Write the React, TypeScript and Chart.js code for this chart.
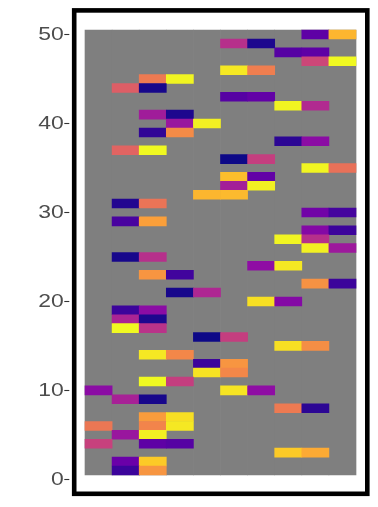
import React, { useEffect, useRef } from "react";
import { Chart, registerables } from "chart.js";

Chart.register(...registerables);

// ---- data ----
const COLUMNS = [1, 2, 3, 4, 5, 6, 7, 8, 9, 10];
const ROW_COUNT = 50;
const Y_TICKS = [0, 10, 20, 30, 40, 50];

const CELL_ROWS = [
  50, 50, 49, 49, 48, 48, 47, 47, 46, 46, 45, 45, 44, 44, 43, 43, 42, 42, 41, 41,
  40, 40, 39, 39, 38, 38, 37, 37, 36, 36, 35, 35, 34, 34, 33, 33, 32, 32, 31, 31,
  30, 30, 29, 29, 28, 28, 27, 27, 26, 26, 25, 25, 24, 24, 23, 23, 22, 22, 21, 21,
  20, 20, 19, 19, 18, 18, 17, 17, 16, 16, 15, 15, 14, 14, 13, 13, 12, 12, 11, 11,
  10, 10, 10, 9, 9, 8, 8, 7, 7, 6, 6, 6, 5, 5, 4, 4, 4, 3, 3, 2, 2, 1, 1,
];
const CELL_COLS = [
  9, 10, 6, 7, 8, 9, 9, 10, 6, 7, 3, 4, 2, 3, 6, 7, 8, 9, 3, 4,
  4, 5, 3, 4, 8, 9, 2, 3, 6, 7, 9, 10, 6, 7, 6, 7, 5, 6, 2, 3,
  9, 10, 2, 3, 9, 10, 8, 9, 9, 10, 2, 3, 7, 8, 3, 4, 9, 10, 4, 5,
  7, 8, 2, 3, 2, 3, 2, 3, 5, 6, 8, 9, 3, 4, 5, 6, 5, 6, 3, 4,
  1, 6, 7, 2, 3, 8, 9, 3, 4, 1, 3, 4, 2, 3, 1, 3, 4, 8, 9, 2, 3, 2, 3,
];
const CELL_VALUES = [
  0.17, 0.84, 0.42, 0.03, 0.15, 0.17, 0.5, 1.0, 0.96, 0.68, 0.67, 0.99, 0.58, 0.02, 0.15, 0.18, 0.99, 0.4, 0.35, 0.03,
  0.33, 0.98, 0.07, 0.72, 0.06, 0.29, 0.6, 1.0, 0.0, 0.47, 0.99, 0.64, 0.86, 0.18, 0.36, 0.98, 0.84, 0.85, 0.04, 0.65,
  0.22, 0.11, 0.12, 0.78, 0.27, 0.09, 0.99, 0.42, 0.98, 0.34, 0.02, 0.42, 0.3, 0.96, 0.75, 0.1, 0.74, 0.09, 0.02, 0.39,
  0.94, 0.27, 0.09, 0.29, 0.38, 0.03, 1.0, 0.43, 0.0, 0.47, 0.94, 0.73, 0.96, 0.71, 0.09, 0.75, 0.95, 0.71, 1.0, 0.47,
  0.29, 0.95, 0.3, 0.37, 0.02, 0.67, 0.06, 0.77, 0.94, 0.66, 0.7, 0.96, 0.33, 0.98, 0.48, 0.17, 0.15, 0.89, 0.81, 0.2, 0.89, 0.09, 0.75,
];

// plasma colour scale stops (0, 0.1, ..., 1)
const PLASMA_STOPS = [
  [13, 8, 135], [65, 4, 157], [106, 0, 168], [143, 13, 164], [177, 42, 144], [204, 71, 120],
  [225, 100, 98], [242, 132, 75], [252, 166, 54], [252, 206, 37], [240, 249, 33],
];

function plasma(v: number): string {
  const t = Math.max(0, Math.min(1, v)) * (PLASMA_STOPS.length - 1);
  const i = Math.min(PLASMA_STOPS.length - 2, Math.floor(t));
  const f = t - i;
  const a = PLASMA_STOPS[i];
  const b = PLASMA_STOPS[i + 1];
  const c = a.map((x, k) => Math.round(x + (b[k] - x) * f));
  return `rgb(${c[0]},${c[1]},${c[2]})`;
}

const framePlugin = {
  id: "frame",
  afterDraw(chart: any) {
    const { ctx, chartArea } = chart;
    const w = 4.6;
    ctx.save();
    ctx.strokeStyle = "#000000";
    ctx.lineWidth = w;
    ctx.strokeRect(
      chartArea.left - w / 2,
      chartArea.top - w / 2,
      chartArea.right - chartArea.left + w,
      chartArea.bottom - chartArea.top + w
    );
    // y tick labels (slightly widened glyphs, as in the reference)
    const yScale = chart.scales.y;
    ctx.fillStyle = "#4d4d4d";
    ctx.font = '17.5px "Liberation Sans", Arial, sans-serif';
    ctx.textAlign = "right";
    ctx.textBaseline = "middle";
    for (const t of yScale.ticks) {
      const py = yScale.getPixelForValue(t.value);
      ctx.save();
      ctx.translate(chartArea.left - 12.8, py + 0.6);
      ctx.scale(1.31, 1);
      ctx.fillText(String(t.value), 0, 0);
      ctx.restore();
    }
    ctx.restore();
  },
};

export default function App() {
  const ref = useRef<HTMLCanvasElement | null>(null);

  useEffect(() => {
    if (!ref.current) return;
    const cellData = CELL_ROWS.map((r, i) => ({ x: CELL_COLS[i], y: [r - 0.5, r + 0.5] }));
    const bgData = COLUMNS.map((c) => ({ x: c, y: [0.5, ROW_COUNT + 0.5] }));

    const chart = new Chart(ref.current, {
      type: "bar",
      data: {
        datasets: [
          {
            data: cellData as any,
            backgroundColor: CELL_VALUES.map(plasma),
            order: 0,
          },
          {
            data: bgData as any,
            backgroundColor: "#7f7f7f",
            order: 1,
          },
        ],
      },
      options: {
        animation: false,
        responsive: false,
        maintainAspectRatio: false,
        layout: { padding: { left: 0, top: 12.7, right: 13, bottom: 15.5 } },
        datasets: {
          bar: {
            grouped: false,
            barPercentage: 1,
            categoryPercentage: 1,
            borderWidth: 0,
          },
        } as any,
        plugins: {
          legend: { display: false },
          tooltip: { enabled: false },
        },
        scales: {
          x: {
            type: "linear",
            display: false,
            offset: false,
            grid: { offset: false },
            min: 0.186,
            max: 10.832,
            afterBuildTicks: (s: any) => {
              s.ticks = COLUMNS.map((v) => ({ value: v }));
            },
          },
          y: {
            type: "linear",
            position: "left",
            min: -1.37,
            max: 52.46,
            afterBuildTicks: (s: any) => {
              s.ticks = Y_TICKS.map((v) => ({ value: v }));
            },
            afterFit: (s: any) => {
              s.width = 76.5;
            },
            border: { display: false },
            grid: {
              drawOnChartArea: false,
              drawTicks: true,
              tickLength: 12.2,
              tickColor: "#333333",
              tickWidth: 1.1,
              tickBorderDash: [5, 30],
              tickBorderDashOffset: 0,
            },
            ticks: {
              display: false,
            },
          },
        },
      },
      plugins: [framePlugin],
    });
    return () => chart.destroy();
  }, []);

  return (
    <div style={{ position: "absolute", left: 0, top: 0, width: 378, height: 507, background: "#ffffff" }}>
      <canvas ref={ref} width={378} height={507} style={{ display: "block" }} />
    </div>
  );
}
